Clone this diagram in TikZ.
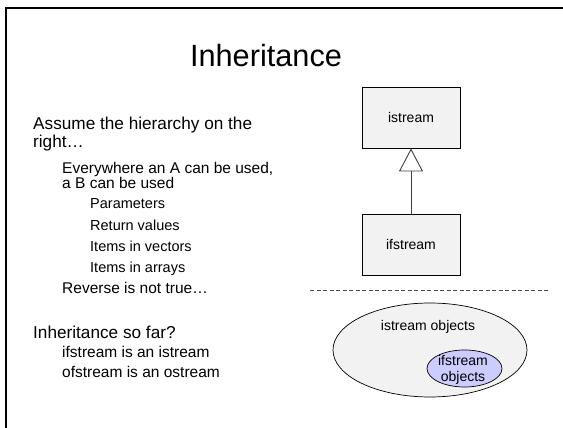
\documentclass[tikz,border=0pt]{standalone}
\usepackage{fontspec}
\setmainfont{Liberation Sans}
\usetikzlibrary{arrows.meta,shapes.geometric}
\definecolor{boxfill}{HTML}{F2F2F2}
\definecolor{lav}{HTML}{CCCCFF}
\begin{document}
\begin{tikzpicture}[x=1pt,y=-1pt,
  titletxt/.style={anchor=base, inner sep=0pt, font=\fontsize{30.7}{33}\selectfont},
  lvA/.style={anchor=base west, inner sep=0pt, font=\fontsize{17.2}{19}\selectfont},
  lvB/.style={anchor=base west, inner sep=0pt, font=\fontsize{15.5}{17}\selectfont},
  lvC/.style={anchor=base west, inner sep=0pt, font=\fontsize{14.5}{16}\selectfont},
  cls/.style={draw=black, line width=0.8pt, fill=boxfill, minimum width=98, minimum height=61, inner sep=0pt, font=\fontsize{14}{16}\selectfont},
  gen/.style={draw=black!75, line width=0.9pt, -{Triangle[open,length=23pt,width=24pt]}},
  sep/.style={draw=black!70, line width=0.7pt, dash pattern=on 4pt off 2.5pt},
  set/.style={draw=black, line width=0.7pt, ellipse, inner sep=0pt},
  settxt/.style={inner sep=0pt, font=\fontsize{14}{16}\selectfont, align=center}
]
\useasboundingbox (0,0) rectangle (563,428);
% slide frame
\draw[line width=2.6pt, line join=miter] (6,430) -- (6,8) -- (565,8);

\node[titletxt] (title) at (266,67) {Inheritance};

\node[lvA] (a1) at (33,130) {Assume the hierarchy on the};
\node[lvA] (a2) at (33,147) {right…};
\node[lvB] (b1) at (62,173.5) {Everywhere an A can be used,};
\node[lvB] (b2) at (62,189) {a B can be used};
\node[lvC] (c1) at (90,208) {Parameters};
\node[lvC] (c2) at (90,230) {Return values};
\node[lvC] (c3) at (90,251) {Items in vectors};
\node[lvC] (c4) at (90,272) {Items in arrays};
\node[lvB] (b3) at (62,293.5) {Reverse is not true…};
\node[lvA] (a3) at (33,338) {Inheritance so far?};
\node[lvB] (b4) at (62,357.5) {ifstream is an istream};
\node[lvB] (b5) at (62,377.5) {ofstream is an ostream};

\node[cls] (ist) at (411,117.5) {istream};
\node[cls] (ifs) at (411,244.5) {ifstream};
\draw[gen] (ifs) -- (ist);

\coordinate (d1) at (310,290);
\coordinate (d2) at (550,290);
\draw[sep] (d1) -- (d2);

\node[set, fill=boxfill, minimum width=194, minimum height=94] (outer) at (430,350) {};
\node[settxt] (outerlbl) at (428,327) {istream objects};
\node[set, fill=lav, minimum width=75, minimum height=37] (inner) at (464.5,368.5) {};
\node[settxt] (innerlbl) at (463,370) {ifstream\\objects};
\end{tikzpicture}
\end{document}
